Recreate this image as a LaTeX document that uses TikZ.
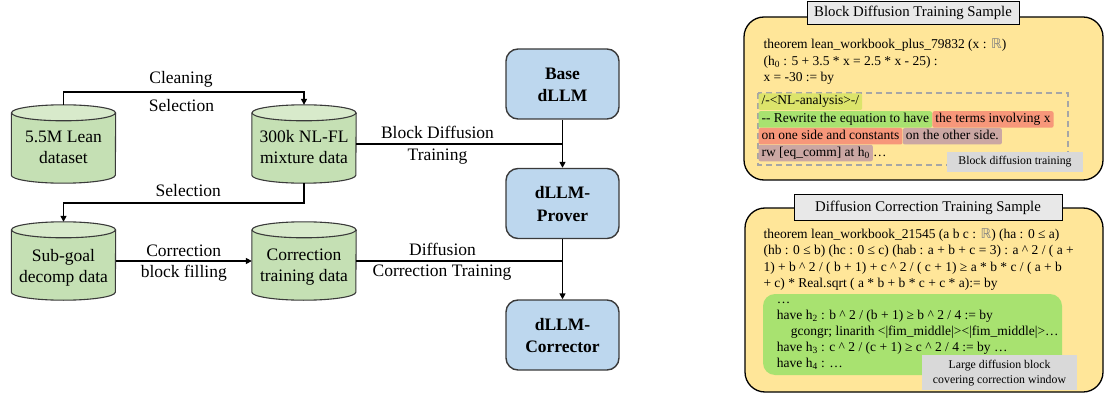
\documentclass[tikz,border=0pt]{standalone}
\usepackage{fontspec}
\setmainfont{Liberation Serif}
\newfontfamily\dejafont{DejaVu Sans}
\usetikzlibrary{arrows.meta,calc}

\definecolor{cylG}{HTML}{C5E0B4}
\definecolor{cylT}{HTML}{D8EACB}
\definecolor{boxB}{HTML}{BDD7EE}
\definecolor{panelY}{HTML}{FFE699}
\definecolor{hlY}{HTML}{DCE46B}
\definecolor{hlG}{HTML}{A8E270}
\definecolor{hlS}{HTML}{F7977A}
\definecolor{hlM}{HTML}{CBA7A3}
\definecolor{lblG}{HTML}{D9D9D9}
\definecolor{ttlG}{HTML}{E8E8E8}
\definecolor{dashG}{HTML}{A6A6A6}
\definecolor{edgeD}{HTML}{3A3A3A}

\newcommand\RR{{\color{gray}\dejafont ℝ}}
\newcommand\crt{\textasciicircum}
\newcommand\bst{\rule[-1pt]{0pt}{15pt}}
\newcommand\drawcyl[1]{%
  \fill[cylG] ([yshift=-8pt]#1.north west) -- ([yshift=8pt]#1.south west)
     arc[start angle=180,end angle=360,x radius=52pt,y radius=8pt]
     -- ([yshift=-8pt]#1.north east) -- cycle;
  \draw[edgeD, line width=1.1pt] ([yshift=-8pt]#1.north west) -- ([yshift=8pt]#1.south west)
     arc[start angle=180,end angle=360,x radius=52pt,y radius=8pt]
     -- ([yshift=-8pt]#1.north east);
  \draw[edgeD, line width=1.1pt, fill=cylT] ([yshift=-8pt]#1.north) ellipse[x radius=52pt, y radius=8pt];}

\tikzset{
  conn/.style={line width=1.8pt, black},
  arr/.style={conn, -{Triangle[length=6pt,width=6pt]}},
  cylbox/.style={minimum width=104pt, minimum height=78pt, inner sep=0pt},
  cyltxt/.style={align=center, font=\fontsize{17.5}{21}\selectfont, inner sep=0pt},
  lbl/.style={font=\fontsize{17.5}{21}\selectfont, inner sep=0pt, anchor=base},
  model/.style={draw=edgeD, line width=1.4pt, fill=boxB, rounded corners=12pt,
    minimum width=113pt, minimum height=70pt, align=center,
    font=\fontsize{17.5}{22}\selectfont\bfseries, inner sep=0pt},
  panel/.style={draw=black, line width=1.3pt, fill=panelY, rounded corners=20pt},
  ttl/.style={draw=black, line width=1pt, fill=ttlG, font=\fontsize{14.8}{17}\selectfont, inner sep=0pt},
  code/.style={align=left, inner sep=0pt, anchor=north west, font=\fontsize{13.5}{16.7}\selectfont},
  hl/.style={inner xsep=3pt, inner ysep=1.5pt, text height=10pt, text depth=3.5pt,
    rounded corners=2pt, anchor=base west, font=\fontsize{13.5}{16}\selectfont},
  tag/.style={fill=lblG, inner sep=0pt, font=\fontsize{11.8}{15}\selectfont, align=center},
}

\begin{document}
\begin{tikzpicture}[x=1pt,y=-1pt]
\useasboundingbox (0,0) rectangle (1105,398);

% ---------- cylinders ----------
\node[cylbox] (lean) at (63.5,144) {};
\node[cylbox] (nl) at (304,144) {};
\node[cylbox] (sub) at (63.5,261) {};
\node[cylbox] (corr) at (304,261) {};
\drawcyl{lean}
\drawcyl{nl}
\drawcyl{sub}
\drawcyl{corr}
\node[cyltxt] (lean-t) at (63.5,149.3) {\strut 5.5M Lean\\\strut dataset};
\node[cyltxt] (nl-t) at (304,148.6) {\strut 300k NL-FL\\\strut mixture data};
\node[cyltxt] (sub-t) at (63.5,267.3) {\strut Sub-goal\\\strut decomp data};
\node[cyltxt] (corr-t) at (304,266.3) {\strut Correction\\\strut training data};

% ---------- models ----------
\node[model] (base) at (562.5,84) {\bst Base\\\bst dLLM};
\node[model] (prover) at (562.5,203.5) {\bst dLLM-\\\bst Prover};
\node[model] (cor) at (562.5,335) {\bst dLLM-\\\bst Corrector};

% ---------- connectors ----------
\draw[arr] (lean.north) -- ++(0,-13) -| (nl.north);
\draw[arr] (nl.south) -- ++(0,20) -| (sub.north);
\draw[arr] (sub.east) -- (corr.west);
\draw[conn] (nl.east) -- (nl.east -| base.south);
\draw[arr] (base.south) -- (prover.north);
\draw[conn] (corr.east) -- (corr.east -| prover.south);
\draw[arr] (prover.south) -- (cor.north);

% ---------- connector labels ----------
\node[lbl] (l1) at (181,83.3) {Cleaning};
\node[lbl] (l2) at (181.5,111.7) {Selection};
\node[lbl] (l3) at (188.3,196.7) {Selection};
\node[lbl] (l4) at (183.7,256) {Correction};
\node[lbl] (l5) at (183.8,277.7) {block filling};
\node[lbl] (l6) at (437.5,139) {Block Diffusion};
\node[lbl] (l7) at (437.5,160.7) {Training};
\node[lbl] (l8) at (442.5,255) {Diffusion};
\node[lbl] (l9) at (442,276) {Correction Training};

% ---------- panel 1 ----------
\draw[panel] (744,17) rectangle (1103,180);
\node[ttl, minimum width=212pt, minimum height=23pt] (t1) at (913,13) {Block Diffusion Training Sample};
\node[code] (c1) at (763.3,36.6) {\strut theorem lean\_workbook\_plus\_79832 (x : \RR)\\
  \strut (h\textsubscript{0} : 5 + 3.5 * x = 2.5 * x - 25) :\\
  \strut x = -30 := by};
\draw[dashG, line width=1.5pt, dash pattern=on 6pt off 4pt] (758,93) rectangle (1068,165);
\node[hl, fill=hlY] (h1) at (758.3,105) {/-<NL-analysis>-/};
\node[hl, fill=hlG] (h2a) at (758.3,122.7) {-{}- Rewrite the equation to have\ };
\node[hl, fill=hlS] (h2b) at (h2a.base east) {the terms involving x\ };
\node[hl, fill=hlS] (h3a) at (758.3,139.5) {on one side and constants\ };
\node[hl, fill=hlM] (h3b) at (h3a.base east) {on the other side.\ };
\node[hl, fill=hlM] (h4) at (758.3,156.3) {rw [eq\_comm] at h\textsubscript{0}};
\node[hl, inner xsep=0pt] (h4e) at (h4.base east) {…};
\node[tag, minimum width=136pt, minimum height=20pt] (tg1) at (1015,162) {Block diffusion training};

% ---------- panel 2 ----------
\draw[panel] (745,208) rectangle (1103,392);
\node[ttl, minimum width=268pt, minimum height=25pt] (t2) at (928,207.5) {Diffusion Correction Training Sample};
\node[code, font=\fontsize{13.5}{16.4}\selectfont] (c2) at (763.3,226.8) {\strut theorem lean\_workbook\_21545 (a b c : \RR) (ha : 0 ≤ a)\\
  \strut (hb : 0 ≤ b) (hc : 0 ≤ c) (hab : a + b + c = 3) : a \crt{} 2 / ( a +\\
  \strut 1) + b \crt{} 2 / ( b + 1) + c \crt{} 2 / ( c + 1) ≥ a * b * c / ( a + b\\
  \strut + c) * Real.sqrt ( a * b + b * c + c * a):= by};
\fill[hlG, rounded corners=12pt] (763,294) rectangle (1062,375);
\node[code, font=\fontsize{13.5}{16}\selectfont] (c3) at (776.7,291.8) {\strut …\\
  \strut have h\textsubscript{2} : b \crt{} 2 / (b + 1) ≥ b \crt{} 2 / 4 := by\\
  \strut\hspace*{14pt}gcongr; linarith <|fim\_middle|><|fim\_middle|>…\\
  \strut have h\textsubscript{3} : c \crt{} 2 / (c + 1) ≥ c \crt{} 2 / 4 := by …\\
  \strut have h\textsubscript{4} : …};
\node[tag, minimum width=155pt, minimum height=35pt] (tg2) at (999.5,372.5) {\strut Large diffusion block\\\strut covering correction window};
\end{tikzpicture}
\end{document}
